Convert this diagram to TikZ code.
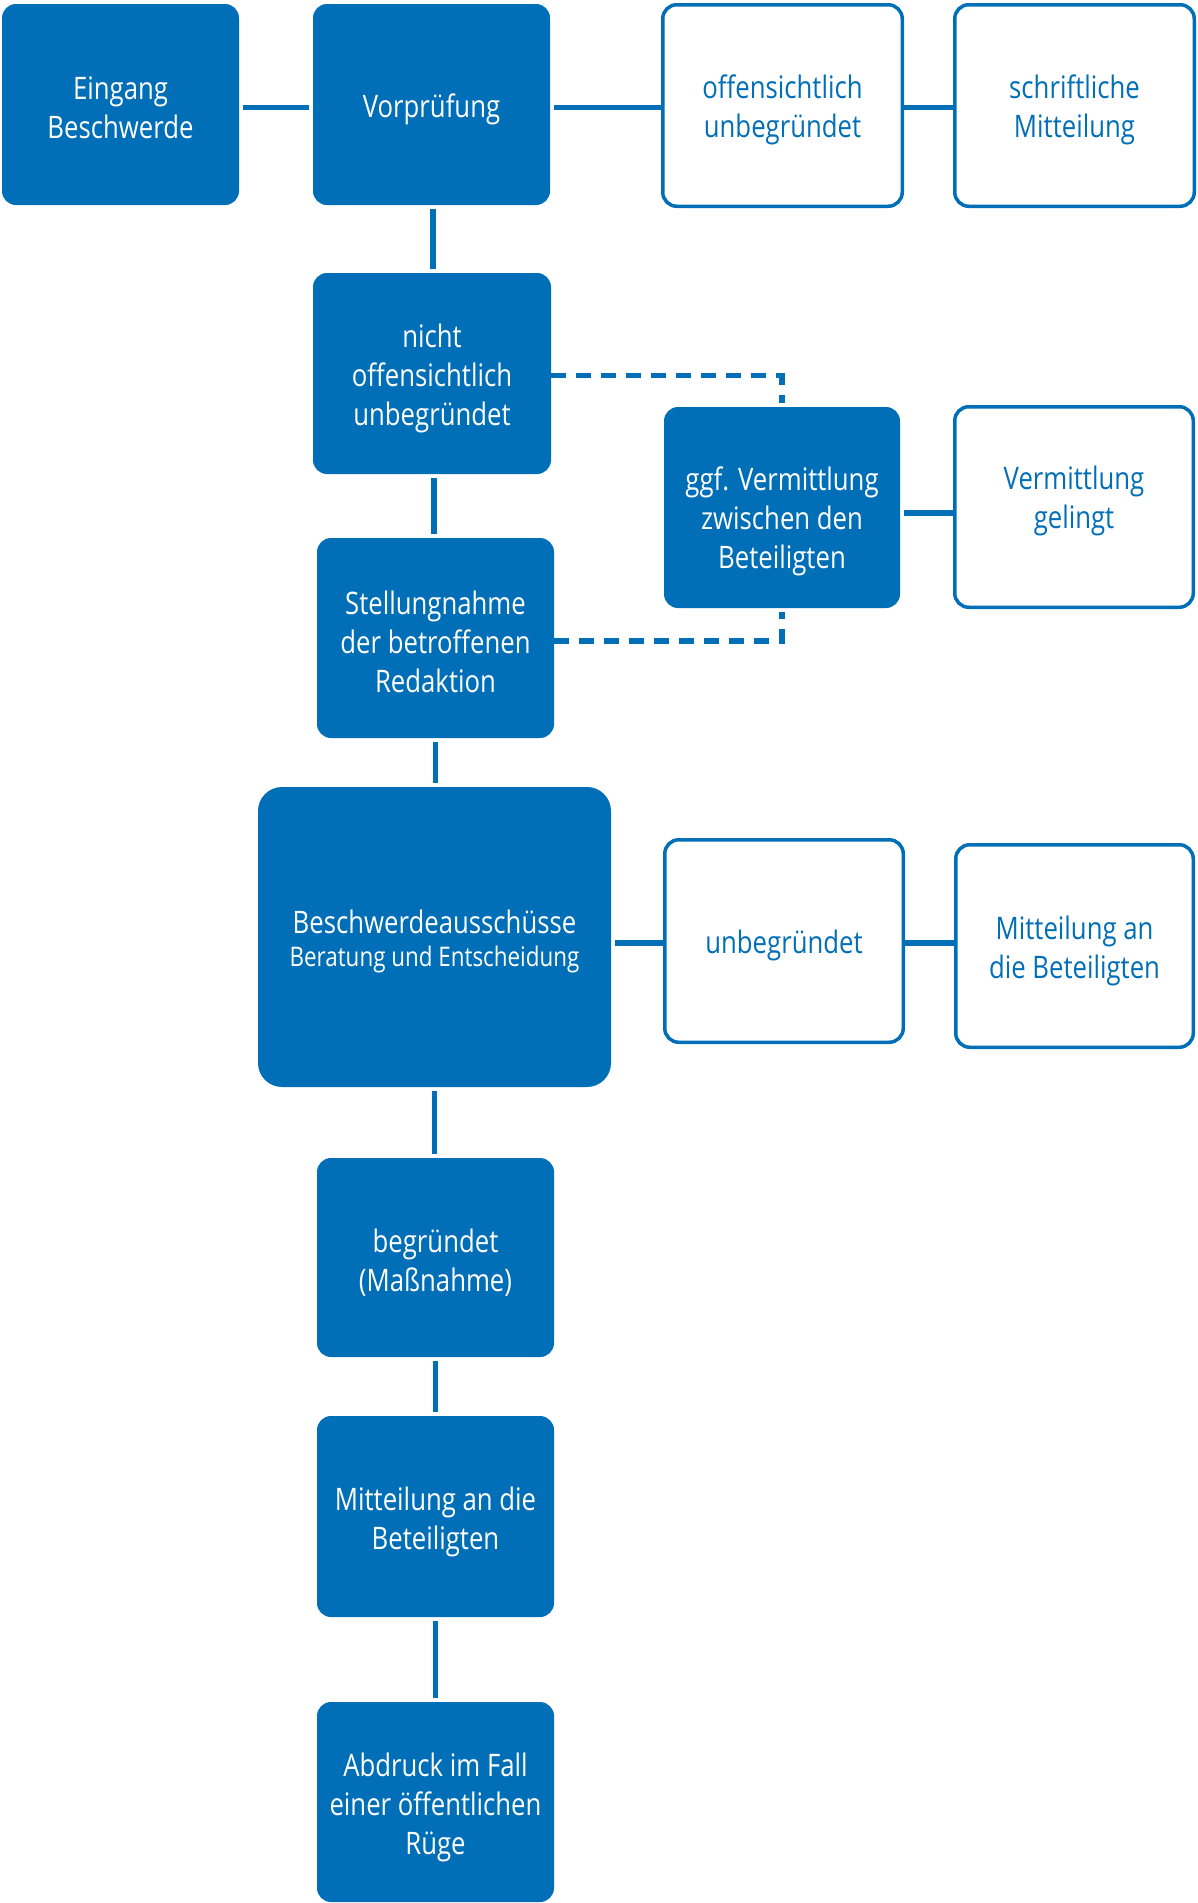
\documentclass[tikz,border=0pt]{standalone}
\usepackage{fontspec}
\setmainfont[FakeStretch=0.83]{Open Sans}
\definecolor{pblue}{HTML}{006FB7}
\tikzset{
  bbox/.style={rectangle, rounded corners=14pt, fill=pblue, inner sep=0pt, outer sep=4pt},
  wbox/.style={rectangle, rounded corners=14pt, draw=pblue, line width=3.5pt, fill=white, inner sep=0pt},
  btxt/.style={text=white, inner sep=0pt, align=center, font=\fontsize{31}{39}\selectfont},
  wtxt/.style={text=pblue, inner sep=0pt, align=center, font=\fontsize{31}{39}\selectfont},
  conn/.style={draw=pblue, line width=5.5pt},
  dconn/.style={draw=pblue, line width=5.5pt, dash pattern=on 15pt off 10pt}
}
\begin{document}
\begin{tikzpicture}[x=1pt,y=-1pt]
\useasboundingbox (0,0) rectangle (1197,1903);
% blue boxes
\node[bbox, minimum width=237pt, minimum height=201pt,
  label={[btxt, yshift=-3pt]center:{Eingang\\Beschwerde}}] (E) at (120.5,104.5) {};
\node[bbox, minimum width=237pt, minimum height=201pt,
  label={[btxt, yshift=-5pt]center:{Vorprüfung}}] (V) at (431.5,104.5) {};
\node[bbox, minimum width=238pt, minimum height=201pt,
  label={[btxt, yshift=-5pt]center:{nicht\\offensichtlich\\unbegründet}}] (N) at (432,373.5) {};
\node[bbox, minimum width=237pt, minimum height=200pt,
  label={[btxt, yshift=-3.5pt]center:{Stellungnahme\\der betroffenen\\Redaktion}}] (St) at (435.5,638) {};
\node[bbox, minimum width=236pt, minimum height=201pt,
  label={[btxt, yshift=-14pt]center:{ggf. Vermittlung\\zwischen den\\Beteiligten}}] (G) at (782,507.5) {};
\node[bbox, rounded corners=24pt, minimum width=353pt, minimum height=300pt,
  label={[btxt, yshift=-4pt]center:{Beschwerdeausschüsse\\[-6pt]{\fontsize{27}{33}\selectfont Beratung und Entscheidung}}}] (B) at (434.5,937) {};
\node[bbox, minimum width=237pt, minimum height=199pt,
  label={[btxt, yshift=-5pt]center:{begründet\\(Maßnahme)}}] (Bg) at (435.5,1257.5) {};
\node[bbox, minimum width=237pt, minimum height=201pt,
  label={[btxt, yshift=-5pt]center:{Mitteilung an die\\Beteiligten}}] (Mi) at (435.5,1516.5) {};
\node[bbox, minimum width=237pt, minimum height=200pt,
  label={[btxt, yshift=-5pt]center:{Abdruck im Fall\\einer öffentlichen\\Rüge}}] (A) at (435.5,1802) {};
% white boxes
\node[wbox, minimum width=239.5pt, minimum height=201.5pt,
  label={[wtxt, yshift=-4pt]center:{offensichtlich\\unbegründet}}] (O) at (782.5,105.5) {};
\node[wbox, minimum width=239.5pt, minimum height=201.5pt,
  label={[wtxt, yshift=-4pt]center:{schriftliche\\Mitteilung}}] (S) at (1074.5,105.5) {};
\node[wbox, minimum width=238.5pt, minimum height=200.5pt,
  label={[wtxt, yshift=6pt]center:{Vermittlung\\gelingt}}] (VG) at (1074,507) {};
\node[wbox, minimum width=238.5pt, minimum height=202.5pt,
  label={[wtxt, yshift=-4pt]center:{unbegründet}}] (U) at (784,941) {};
\node[wbox, minimum width=237.5pt, minimum height=202.5pt,
  label={[wtxt, yshift=-5pt]center:{Mitteilung an\\die Beteiligten}}] (M) at (1074.5,946) {};
% connectors
\draw[conn] ([yshift=-3pt]E.east) -- ([yshift=-3pt]E.east -| V.west);
\draw[conn] ([yshift=-3pt]V.east) -- ([yshift=-3pt]V.east -| O.west);
\draw[conn] ([yshift=-3pt]V.east -| O.east) -- ([yshift=-3pt]V.east -| S.west);
\draw[conn] ([xshift=1.5pt]V.south) -- ([xshift=1.5pt]V.south |- N.north);
\draw[conn] ([xshift=2pt]N.south) -- ([xshift=2pt]N.south |- St.north);
\draw[conn] (St.south) -- (St.south |- B.north);
\draw[conn] ([yshift=-5.5pt]G.east) -- ([yshift=-5.5pt]G.east -| VG.west);
\draw[conn] ([yshift=-2pt]U.west) -- ([yshift=-2pt]U.west -| B.east);
\draw[conn] ([yshift=-2pt]U.east) -- ([yshift=-2pt]U.east -| M.west);
\draw[conn] (B.south) -- (B.south |- Bg.north);
\draw[conn] (Bg.south) -- (Bg.south |- Mi.north);
\draw[conn] (Mi.south) -- (Mi.south |- A.north);
\draw[dconn] ([xshift=-4pt,yshift=-2pt]N.east) -- ([yshift=-2pt]N.east -| G.north) -- (G.north);
\draw[dconn] ([xshift=-4pt,yshift=-3pt]St.east) -- ([yshift=-3pt]St.east -| G.south) -- (G.south);
\end{tikzpicture}
\end{document}
